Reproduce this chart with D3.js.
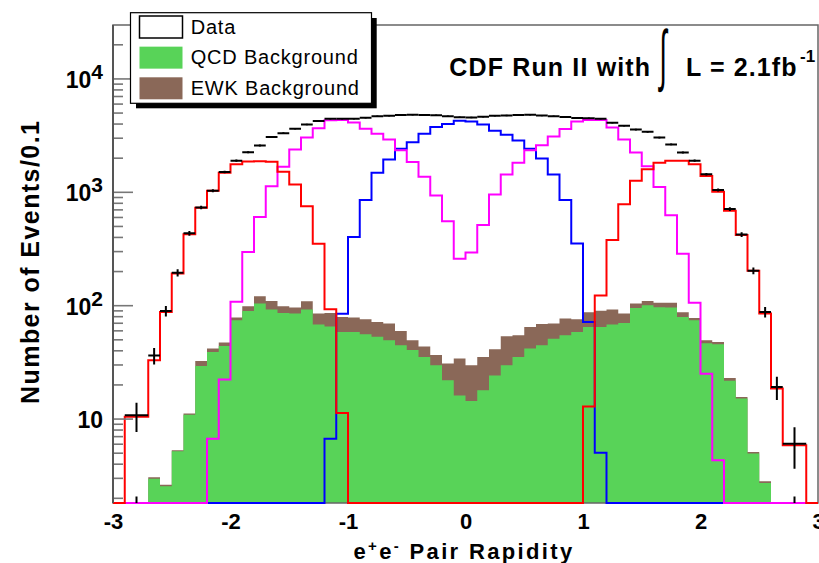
<!DOCTYPE html>
<html>
<head>
<meta charset="utf-8">
<title>e+e- Pair Rapidity</title>
<script src="https://cdn.jsdelivr.net/npm/d3@7/dist/d3.min.js"></script>
<style>
  html, body { margin: 0; padding: 0; background: #ffffff; }
  svg { display: block; font-family: "Liberation Sans", Arial, Helvetica, sans-serif; }
</style>
</head>
<body>
<svg id="chart" width="819" height="563"></svg>
<script>
// ---- Rapidity binning: 0.1 wide, except the merged 0.2 bins at |y| 2.7-2.9 ----
const binEdges = [-3, -2.9, ...d3.range(-27, 28).map(i => i / 10), 2.9, 3];

// Events / 0.1 per bin (58 bins, left to right)
const dataCounts = [0, 10.7, 36, 89, 193, 430, 727, 1021, 1495, 1880, 2230, 2560, 3040, 3290, 3600, 3920,
  4220, 4400, 4420, 4420, 4500, 4650, 4680, 4750, 4780, 4760, 4740, 4650, 4550, 4530, 4600, 4680, 4720,
  4760, 4780, 4700, 4640, 4560, 4480, 4460, 4420, 4060, 3830, 3540, 3380, 3010, 2620, 2220, 1880, 1430,
  1040, 705, 420, 201, 87, 19, 6.0, 0];
const dataErrors = [0, 3.1, 6, 9.4, 14, 21, 27, 32, 39, 43, 47, 51, 55, 57, 60, 63, 65, 66, 66, 66, 67,
  68, 68, 69, 69, 69, 69, 68, 67, 67, 68, 68, 69, 69, 69, 69, 68, 68, 67, 67, 66, 64, 62, 59, 58, 55, 51,
  47, 43, 38, 32, 27, 20, 14, 9.3, 4.4, 2.4, 0];
const qcdCounts = [0, 0, 2.95, 2.53, 5.15, 10.8, 29.1, 38.7, 43.6, 73.8, 89, 103.6, 91.6, 85.5, 84.5,
  91.6, 67.6, 65, 58, 58, 55.5, 52.7, 49, 44.4, 40.2, 34.9, 29.5, 21.8, 16.0, 14.3, 17.8, 24.0, 29.5, 34.9,
  41.5, 44.4, 50.6, 54.3, 58, 64.3, 64.3, 67.6, 69.8, 94.6, 100, 96, 95.5, 78.6, 73.8, 46.2, 45.3, 21.5,
  15.0, 4.91, 2.70, 0, 0, 0];
const ewkCounts = [0, 0, 0.08, 0.08, 0.1, 0.3, 3.1, 2.8, 3.3, 4.0, 9, 16.4, 17.4, 12.5, 11, 16.9, 16.9,
  20.5, 20.6, 19.8, 19.5, 18.5, 20, 14.8, 8.8, 8.4, 6.8, 8.8, 17.9, 15.2, 17.1, 16.8, 23.8, 19.4, 22.8,
  23.7, 18.4, 22, 17, 22.4, 25, 24, 14.7, 9.0, 9.0, 9.0, 9.5, 8.1, 3.3, 2.8, 2.1, 1.3, 0.5, 0.16, 0.1,
  0, 0, 0];
// central-central (blue), central-plug (magenta), plug-plug (red) expectations
const ccCounts = [0, 0, 0, 0, 0, 0, 0, 0, 0, 0, 0, 0, 0, 0, 0, 0, 0, 6.65, 84, 400, 845, 1472, 1930,
  2400, 2730, 3250, 3720, 3970, 4230, 4180, 3920, 3450, 3180, 2830, 2400, 1970, 1420, 845, 350, 71, 5.0,
  0, 0, 0, 0, 0, 0, 0, 0, 0, 0, 0, 0, 0, 0, 0, 0, 0];
const cpCounts = [0, 0, 0, 0, 0, 0, 0, 6.65, 22.1, 107, 295, 601, 1122, 1663, 2367, 3010, 3640, 4280,
  4300, 4090, 3600, 3250, 2890, 2330, 1830, 1360, 930, 550, 257, 292, 510, 945, 1420, 1800, 2330, 2580,
  3070, 3580, 4180, 4300, 4300, 3690, 2890, 2220, 1680, 1100, 620, 284, 105, 24.9, 4.28, 0, 0, 0, 0, 0,
  0, 0];
const ppCounts = [0, 10.4, 32.7, 87, 190, 423, 722, 1021, 1472, 1746, 1850, 1860, 1840, 1500, 1160, 745,
  348, 92, 11.2, 0, 0, 0, 0, 0, 0, 0, 0, 0, 0, 0, 0, 0, 0, 0, 0, 0, 0, 0, 0, 12.8, 122, 375, 778, 1250,
  1578, 1803, 1880, 1880, 1746, 1376, 1000, 679, 415, 201, 84.5, 18.4, 5.81, 0];

// short error-bar stubs rising from the floor at the outermost data bins
const stubX = [-2.8, 2.8];
const stubTop = [2.05, 2.05];

const xTickValues = [-3, -2, -1, 0, 1, 2, 3];
const yMajorTicks = [10, 100, 1000, 10000];
const legendLabels = ["Data", "QCD Background", "EWK Background"];

// ---- Layout ----
const svg = d3.select("#chart");
const frame = { left: 113, right: 818, top: 25, bottom: 503 };
const yMin = 1.8, yMax = 29600;
const x = d3.scaleLinear().domain([-3, 3]).range([frame.left, frame.right]);
const y = d3.scaleLog().domain([yMin, yMax]).range([frame.bottom, frame.top]);
const yc = v => y(Math.max(v, yMin));

const COLORS = { qcd: "#58d358", ewk: "#8a6858", cc: "#0000ff", cp: "#ff00ff", pp: "#ff0000", frame: "#666666" };

const bins = d3.range(binEdges.length - 1).map(i => ({ i, lo: binEdges[i], hi: binEdges[i + 1] }));
const stepPoints = counts => bins.flatMap(b => [[b.lo, counts[b.i]], [b.hi, counts[b.i]]]);

svg.append("defs").append("clipPath").attr("id", "plotClip").append("rect")
  .attr("x", frame.left).attr("y", frame.top)
  .attr("width", frame.right - frame.left).attr("height", frame.bottom - frame.top + 1.5);

// ---- Stacked backgrounds: EWK sits on top of QCD ----
const fillG = svg.append("g").attr("clip-path", "url(#plotClip)");
const area = d3.area().x(d => x(d[0])).y0(y(yMin)).y1(d => yc(d[1]));
const totalCounts = qcdCounts.map((v, i) => v + ewkCounts[i]);
fillG.append("path").attr("d", area(stepPoints(totalCounts))).attr("fill", COLORS.ewk);
fillG.append("path").attr("d", area(stepPoints(qcdCounts))).attr("fill", COLORS.qcd);

// ---- Frame ----
svg.append("rect")
  .attr("x", frame.left).attr("y", frame.top)
  .attr("width", frame.right - frame.left).attr("height", frame.bottom - frame.top)
  .attr("fill", "none").attr("stroke", COLORS.frame).attr("stroke-width", 1.5);

// ---- Topology histograms ----
const lineG = svg.append("g").attr("clip-path", "url(#plotClip)");
const stepLine = d3.line().x(d => x(d[0])).y(d => yc(d[1]));
[["cc", ccCounts], ["cp", cpCounts], ["pp", ppCounts]].forEach(([key, counts]) => {
  lineG.append("path").attr("d", stepLine(stepPoints(counts)))
    .attr("fill", "none").attr("stroke", COLORS[key]).attr("stroke-width", 2);
});

// ---- Data points: bin-wide bar plus vertical error ----
const dataG = svg.append("g").attr("clip-path", "url(#plotClip)")
  .attr("stroke", "#000").attr("stroke-width", 2);
const dataBins = bins.filter(b => dataCounts[b.i] > 0);
dataG.selectAll("line.xerr").data(dataBins).join("line").attr("class", "xerr")
  .attr("x1", b => x(b.lo)).attr("x2", b => x(b.hi))
  .attr("y1", b => y(dataCounts[b.i])).attr("y2", b => y(dataCounts[b.i]));
dataG.selectAll("line.yerr").data(dataBins).join("line").attr("class", "yerr")
  .attr("x1", b => x((b.lo + b.hi) / 2)).attr("x2", b => x((b.lo + b.hi) / 2))
  .attr("y1", b => y(dataCounts[b.i] + dataErrors[b.i]))
  .attr("y2", b => yc(dataCounts[b.i] - dataErrors[b.i]));
dataG.selectAll("line.stub").data(stubX).join("line").attr("class", "stub")
  .attr("x1", d => x(d)).attr("x2", d => x(d))
  .attr("y1", (d, i) => y(stubTop[i])).attr("y2", y(yMin));

// ---- Y axis: inward ticks, minor and major ----
const isMajor = v => Math.abs(Math.log10(v) - Math.round(Math.log10(v))) < 1e-9;
const minorTicks = y.ticks().filter(v => !isMajor(v));
const yMinorAxis = svg.append("g").attr("transform", `translate(${frame.left},0)`)
  .call(d3.axisLeft(y).tickValues(minorTicks).tickSizeInner(-10).tickSizeOuter(0).tickFormat(""));
const yMajorAxis = svg.append("g").attr("transform", `translate(${frame.left},0)`)
  .call(d3.axisLeft(y).tickValues(yMajorTicks).tickSizeInner(-20).tickSizeOuter(0).tickPadding(10));
[yMinorAxis, yMajorAxis].forEach(g => {
  g.select(".domain").remove();
  g.selectAll(".tick line").attr("stroke", "#777").attr("stroke-width", 1.6);
});
yMajorAxis.selectAll(".tick text").each(function (d) {
  const t = d3.select(this).text(null)
    .attr("dy", null).attr("y", 9)
    .attr("font-size", 23).attr("font-weight", "bold").attr("fill", "#000")
    .attr("font-family", "'Liberation Sans', Arial, sans-serif");
  const e = Math.round(Math.log10(d));
  t.append("tspan").text("10");
  if (e > 1) t.append("tspan").attr("dy", -9).attr("font-size", 21).text(e);
});
svg.append("line").attr("x1", frame.left).attr("x2", frame.left)
  .attr("y1", frame.top).attr("y2", frame.bottom)
  .attr("stroke", "#555").attr("stroke-width", 2);

// ---- X axis labels ----
const xAxis = svg.append("g").attr("transform", `translate(0,${frame.bottom})`)
  .call(d3.axisBottom(x).tickValues(xTickValues).tickSize(0).tickPadding(0).tickFormat(d => String(d)));
xAxis.select(".domain").remove();
xAxis.selectAll(".tick text")
  .attr("dy", null).attr("y", 26)
  .attr("font-size", 22).attr("font-weight", "bold").attr("fill", "#000")
  .attr("font-family", "'Liberation Sans', Arial, sans-serif");

// ---- Axis titles ----
const xTitle = svg.append("text").attr("x", 464).attr("y", 559)
  .attr("text-anchor", "middle").attr("font-size", 22).attr("font-weight", "bold")
  .attr("letter-spacing", "2.35px");
xTitle.append("tspan").text("e");
xTitle.append("tspan").attr("dy", -8).attr("font-size", 15).text("+");
xTitle.append("tspan").attr("dy", 8).text("e");
xTitle.append("tspan").attr("dy", -8).attr("font-size", 15).text("-");
xTitle.append("tspan").attr("dy", 8).text(" Pair Rapidity");

svg.append("text")
  .attr("transform", "translate(38.5,262.5) rotate(-90)")
  .attr("text-anchor", "middle").attr("font-size", 25).attr("font-weight", "bold")
  .attr("textLength", 283).attr("lengthAdjust", "spacing")
  .text("Number of Events/0.1");

// ---- Legend ----
const leg = svg.append("g");
leg.append("rect").attr("x", 136).attr("y", 18).attr("width", 240.7).attr("height", 90.3).attr("fill", "#000");
leg.append("rect").attr("x", 130.5).attr("y", 12.7).attr("width", 241).attr("height", 90.6)
  .attr("fill", "#fff").attr("stroke", "#000").attr("stroke-width", 1.2);
const rowY = d3.scalePoint().domain(legendLabels).range([27, 88.3]);
const legendFill = { "Data": "#fff", "QCD Background": COLORS.qcd, "EWK Background": COLORS.ewk };
legendLabels.forEach(label => {
  const cy = rowY(label);
  leg.append("rect").attr("x", 139.5).attr("y", cy - 11).attr("width", 43).attr("height", 22)
    .attr("fill", legendFill[label])
    .attr("stroke", label === "Data" ? "#000" : "none").attr("stroke-width", 1.5);
  leg.append("text").attr("x", 190.7).attr("y", cy + 6.5)
    .attr("font-size", 20).attr("letter-spacing", "0.8px").attr("fill", "#000").text(label);
});

// ---- Luminosity label ----
const lum = svg.append("g").attr("font-weight", "bold").attr("fill", "#000");
lum.append("text").attr("x", 449.3).attr("y", 76).attr("font-size", 25).attr("letter-spacing", "1.15px")
  .text("CDF Run II with");
lum.append("text").attr("transform", "translate(659.5,78) scale(1,2.5)")
  .attr("font-family", "'DejaVu Sans', sans-serif").attr("font-weight", 200)
  .attr("font-size", 27).text("\u222B");
lum.append("text").attr("x", 686).attr("y", 76).attr("font-size", 25).attr("letter-spacing", "1.1px")
  .text("L = 2.1fb");
lum.append("text").attr("x", 800).attr("y", 61.5).attr("font-size", 17).text("-1");
</script>
</body>
</html>
